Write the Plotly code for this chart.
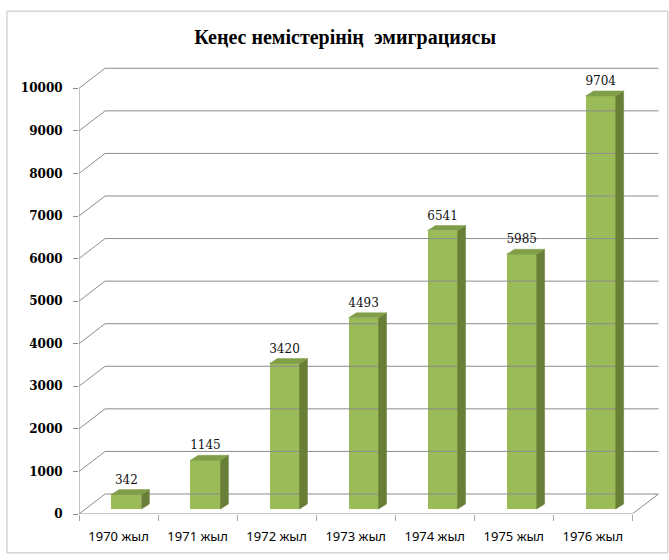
import plotly.graph_objects as go

categories = ["1970 жыл", "1971 жыл", "1972 жыл", "1973 жыл", "1974 жыл", "1975 жыл", "1976 жыл"]
values = [342, 1145, 3420, 4493, 6541, 5985, 9704]
y_ticks = list(range(0, 10001, 1000))
y_tick_text = [str(v) for v in y_ticks]
title_text = "Кеңес немістерінің  эмиграциясы"

# 3D projection parameters (in axis units)
BACK_DX, BACK_DY = 0.33, 470      # back wall offset
BAR_DX, BAR_DY = 0.10, 117        # bar front plane offset
DEPTH_DX, DEPTH_DY = 0.10, 117    # bar depth
BAR_W = 0.38
GRID = "#8c8c8c"
FRONT = "#9BBB59"
TOP = "#809e48"
SIDE = "#697f37"

n = len(categories)
xs = list(range(n))
x_left, x_right = -0.5, n - 0.5

fig = go.Figure()

# back wall gridlines (with diagonal lead-ins from front axis)
for v in y_ticks:
    fig.add_trace(go.Scatter(
        x=[x_left, x_left + BACK_DX, x_right + BACK_DX],
        y=[v, v + BACK_DY, v + BACK_DY],
        mode="lines", line=dict(color=GRID, width=1),
        hoverinfo="skip", showlegend=False))

# floor front edge and right edge
fig.add_trace(go.Scatter(
    x=[x_left, x_right, x_right + BACK_DX],
    y=[0, 0, BACK_DY],
    mode="lines", line=dict(color=GRID, width=1),
    hoverinfo="skip", showlegend=False))
# vertical value axis line
fig.add_trace(go.Scatter(
    x=[x_left, x_left], y=[0, y_ticks[-1]],
    mode="lines", line=dict(color=GRID, width=1),
    hoverinfo="skip", showlegend=False))

# bars: side and top faces
for i, v in zip(xs, values):
    x0 = i + BAR_DX - BAR_W / 2
    x1 = i + BAR_DX + BAR_W / 2
    b = BAR_DY
    fig.add_trace(go.Scatter(
        x=[x1, x1 + DEPTH_DX, x1 + DEPTH_DX, x1, x1],
        y=[b, b + DEPTH_DY, b + DEPTH_DY + v, b + v, b],
        mode="lines", fill="toself", fillcolor=SIDE,
        line=dict(color=SIDE, width=0.5),
        hoverinfo="skip", showlegend=False))
    fig.add_trace(go.Scatter(
        x=[x0, x1, x1 + DEPTH_DX, x0 + DEPTH_DX, x0],
        y=[b + v, b + v, b + v + DEPTH_DY, b + v + DEPTH_DY, b + v],
        mode="lines", fill="toself", fillcolor=TOP,
        line=dict(color=TOP, width=0.5),
        hoverinfo="skip", showlegend=False))

# bars: front faces
fig.add_trace(go.Bar(
    x=[i + BAR_DX for i in xs], y=values, base=[BAR_DY] * n,
    width=BAR_W, marker=dict(color=FRONT, line=dict(width=0)),
    showlegend=False, hoverinfo="skip"))

# data labels
fig.add_trace(go.Scatter(
    x=[i + BAR_DX for i in xs],
    y=[v + BAR_DY + DEPTH_DY + 210 for v in values],
    mode="text", text=[str(v) for v in values],
    textfont=dict(family="DejaVu Serif, serif", size=12, color="#111111"),
    textposition="middle center", hoverinfo="skip", showlegend=False))

# helper trace for boundary-tick axis
fig.add_trace(go.Scatter(x=[x_left], y=[0], xaxis="x2", mode="markers",
                         marker=dict(opacity=0), hoverinfo="skip", showlegend=False))

xr = [x_left, x_right + BACK_DX + 0.02]
fig.update_layout(
    width=669, height=560,
    margin=dict(l=79, r=9, t=67, b=46),
    paper_bgcolor="white", plot_bgcolor="white",
    title=dict(text="<b>" + title_text + "</b>", x=0.516, xanchor="center", y=1 - 37 / 560,
               yanchor="middle", yref="container",
               font=dict(family="Liberation Serif, serif", size=20, color="black")),
    xaxis=dict(range=xr, tickvals=xs, ticktext=categories, ticks="outside",
               ticklen=10, tickcolor="rgba(0,0,0,0)", showgrid=False, zeroline=False,
               showline=False,
               tickfont=dict(family="Noto Sans, sans-serif", size=13, color="black")),
    xaxis2=dict(range=xr, overlaying="x", matches="x", side="bottom",
                tickvals=[k - 0.5 for k in range(n + 1)], ticks="outside", ticklen=6,
                tickcolor="#a6a6a6", showticklabels=False, showgrid=False, zeroline=False,
                showline=False),
    yaxis=dict(range=[0, 10500], tickvals=y_ticks, ticktext=y_tick_text,
               ticks="outside", ticklen=5, ticklabelstandoff=8,
               tickcolor=GRID, showgrid=False, zeroline=False, showline=False,
               tickfont=dict(family="DejaVu Serif, serif", size=12, color="black",
                             weight="bold")),
    bargap=0,
)

# outer chart frame
fig.add_shape(type="rect", xref="paper", yref="paper",
              x0=-0.124, x1=1.0135, y0=-0.087, y1=1.125,
              line=dict(color="#bfbfbf", width=1))

fig.write_html("out.html", config={"displayModeBar": False},
               post_script="document.body.style.margin='0px';")
